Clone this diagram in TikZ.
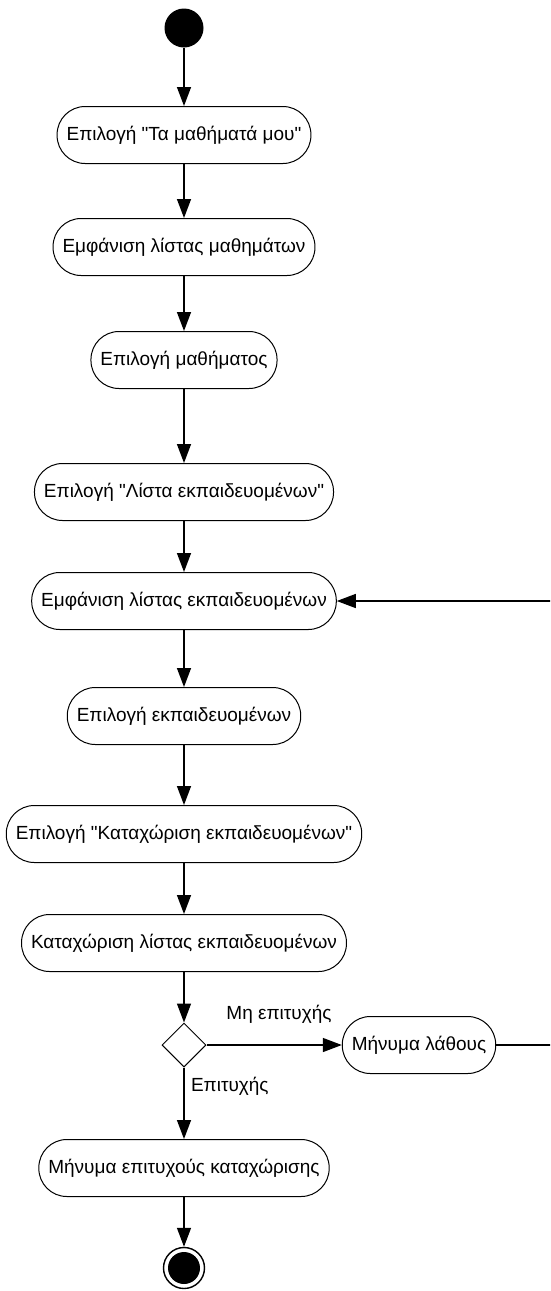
\documentclass[tikz,border=0pt]{standalone}
\usepackage{fontspec}
\setmainfont{Liberation Sans}
\usetikzlibrary{ % tikz packages
    positioning,shapes.geometric,
    arrows.meta
}
\newcommand{\qq}{\textquotedbl}
\tikzset{every action/.style={
    draw, line width=1pt, rectangle, rounded corners=28pt,
    minimum height=57pt, inner xsep=9.5pt,
    font=\fontsize{19pt}{22pt}\selectfont
}}
\tikzset{every choice/.style={
    draw, line width=1pt, diamond, minimum size=44pt, inner sep=0pt
}}
\tikzset{>={Triangle[length=19pt,width=14pt]}}

\begin{document}
\begin{tikzpicture}[on grid,auto,line width=1.4pt]
            \useasboundingbox (0,0) rectangle (550pt,-1291pt);
            \clip (0,0) rectangle (550pt,-1291pt);
            \node[circle, fill, minimum size=39pt, inner sep=0pt] (init) at (184pt,-28pt) {};
            \node[every action] (a1) [below=107pt of init] {Επιλογή \qq Τα μαθήματά μου\qq};
            \node[every action] (a2) [below=112pt of a1] {Εμφάνιση λίστας μαθημάτων};
            \node[every action] (a3) [below=113pt of a2] {Επιλογή μαθήματος};
            \node[every action] (a4) [below=132pt of a3] {Επιλογή \qq Λίστα εκπαιδευομένων\qq};
            \node[every action] (a5) [below=109pt of a4] {Εμφάνιση λίστας εκπαιδευομένων};
            \node[every action] (a6) [below=115pt of a5] {Επιλογή εκπαιδευομένων};
            \node[every action] (a7) [below=118pt of a6] {Επιλογή \qq Καταχώριση εκπαιδευομένων\qq};
            \node[every action] (a8) [below=109pt of a7] {Καταχώριση λίστας εκπαιδευομένων};
            \node[every choice] (d1) [below=102pt of a8] {};
            \node[every action] (err) at (419pt,-1045pt) {Μήνυμα λάθους};
            \node[every action] (a9) [below=123pt of d1] {Μήνυμα επιτυχούς καταχώρισης};
            \node[circle, draw, minimum size=41pt, inner sep=0pt] (fin) [below=100pt of a9] {};
            \node[circle, fill, minimum size=32pt, inner sep=0pt] at (fin) {};
            \coordinate (back1) at (560pt,-1045pt);
            \coordinate (back2) at (560pt,-601pt);

            \path[->]
                (init) edge (a1)
                (a1) edge (a2)
                (a2) edge (a3)
                (a3) edge (a4)
                (a4) edge (a5)
                (a5) edge (a6)
                (a6) edge (a7)
                (a7) edge (a8)
                (a8) edge (d1)
                (d1) edge (err)
                (d1) edge (a9)
                (a9) edge (fin);
            \draw[->] (err) -- (back1) -- (back2) -- (a5);

            \node[font=\fontsize{19pt}{22pt}\selectfont] (nok) at (279pt,-1014pt) {Μη επιτυχής};
            \node[font=\fontsize{19pt}{22pt}\selectfont, anchor=west] (ok) at (187pt,-1086pt) {Επιτυχής};
        \end{tikzpicture}
\end{document}
